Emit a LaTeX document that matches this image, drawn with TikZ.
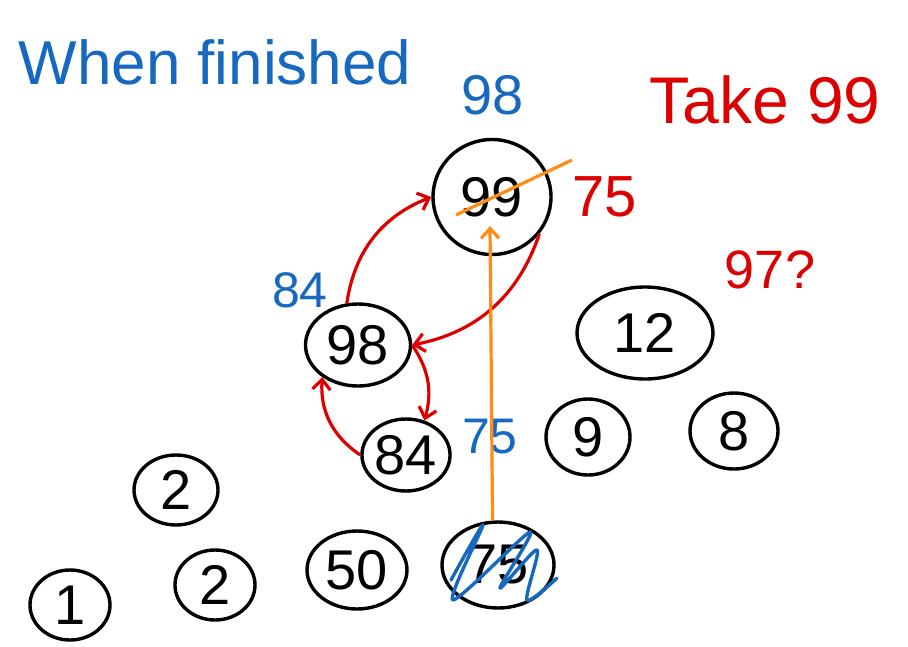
\documentclass[tikz,border=0pt]{standalone}
\usepackage{fontspec}
\setmainfont{Liberation Sans}
\usetikzlibrary{shapes.geometric,arrows.meta}
\definecolor{hblue}{RGB}{22,105,190}
\definecolor{hred}{RGB}{220,0,0}
\definecolor{horange}{RGB}{255,140,20}
\begin{document}
\begin{tikzpicture}[x=1pt,y=-1pt,
  circ/.style={draw=black,ellipse,line width=3.4pt,inner sep=0pt,font=\fontsize{56}{56}\selectfont},
  lbl/.style={inner sep=0pt,font=\fontsize{#1}{#1}\selectfont},
  rarr/.style={draw=hred,line width=3.2pt,-{Straight Barb[length=10pt,width=18pt,line width=3.2pt]}},
  oarr/.style={draw=horange,line width=3.2pt,-{Straight Barb[length=10pt,width=18pt,line width=3.2pt]}},
  oline/.style={draw=horange,line width=3.2pt},
  scrib/.style={draw=hblue,line width=3.4pt,line cap=round,line join=round}]
\fill[white] (0,0) rectangle (908,646);
\useasboundingbox (0,0) rectangle (908,646);
% nodes
\node[circ,minimum width=118pt,minimum height=115pt] (n99) at (492,197) {99};
\node[circ,minimum width=105pt,minimum height=82pt] (n98) at (358,345) {98};
\node[circ,minimum width=88pt,minimum height=72pt] (n84) at (406,455) {84};
\node[circ,minimum width=136pt,minimum height=92pt] (n12) at (645,333) {12};
\node[circ,minimum width=84pt,minimum height=76pt] (n9) at (588,437) {9};
\node[circ,minimum width=88pt,minimum height=76pt] (n8) at (734,431) {8};
\node[circ,minimum width=84pt,minimum height=70pt] (n2a) at (176,490) {2};
\node[circ,minimum width=80pt,minimum height=70pt] (n1) at (70,605) {1};
\node[circ,minimum width=80pt,minimum height=70pt] (n2b) at (215,585) {2};
\node[circ,minimum width=100pt,minimum height=78pt] (n50) at (357,570) {50};
\node[circ,minimum width=112pt,minimum height=86pt] (n75) at (498,565) {75};
% labels
\node[lbl=62,text=hblue] (tw) at (215,62) {When finished};
\node[lbl=56,text=hblue] (t98) at (493,95) {98};
\node[lbl=66,text=hred] (ttake) at (765,100) {Take 99};
\node[lbl=58,text=hred] (t75r) at (605,197) {75};
\node[lbl=50,text=hblue] (t84) at (300,290) {84};
\node[lbl=54,text=hred] (t97) at (770,270) {97?};
\node[lbl=50,text=hblue] (t75b) at (490,437) {75};
% red arrows
\draw[rarr] (n98.105) to[bend left=30] (n99.west);
\draw[rarr] (n99.-38) to[bend left=30] (n98.east);
\draw[rarr] (n98.east) to[bend left=25] (n84.62);
\draw[rarr] (n84.west) to[bend left=30] (n98.222);
% orange
\coordinate (otip) at (490,226);
\draw[oarr] (n75.97) -- (otip);
\coordinate (sa) at (456,215);
\coordinate (sb) at (572,160);
\draw[oline] (sa) -- (sb);
% blue scribble over 75
\draw[scrib] plot[smooth,tension=0.5] coordinates {(451,580) (483,525) (453,600) (530,532) (500,588) (537,550) (527,600) (557,578)};
\end{tikzpicture}
\end{document}
